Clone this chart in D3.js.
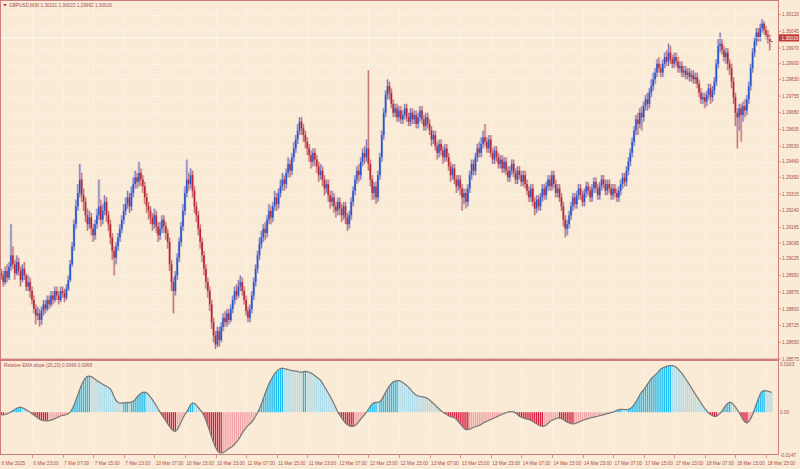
<!DOCTYPE html>
<html><head><meta charset="utf-8">
<script src="https://cdn.jsdelivr.net/npm/d3@7"></script>
<style>html,body{margin:0;padding:0;background:#FAEBD7;}svg{display:block}</style>
</head><body><svg id="c" width="800" height="469"></svg>
<script>
// prices stored in pips above BASE
const BASE = 1.28;
const closes = [
95,92,97,94,99,104,100,96,101,97,93,98,95,90,92,88,
84,80,77,78,75,79,82,
80,84,82,86,84,88,86,84,88,87,85,89,
93,100,108,118,126,132,138,131,
128,122,118,121,116,113,
118,122,126,120,124,128,122,118,
112,106,103,108,
112,116,120,124,
127,130,126,132,136,
139,137,141,138,135,
130,126,124,121,
118,122,117,113,116,120,117,114,110,
100,92,88,95,103,110,117,
124,132,138,136,140,133,
126,122,116,110,
104,98,92,88,
82,74,68,64,70,66,
72,76,74,78,75,
80,84,88,86,90,
92,88,84,79,76,80,
86,92,98,104,109,
112,116,114,120,124,121,126,130,127,132,135,
138,136,141,145,142,148,152,156,160,164,161,158,155,
152,149,146,150,147,144,140,142,
138,134,136,131,128,130,126,124,128,125,122,126,121,
118,122,
128,133,138,142,140,146,150,148,
152,145,138,132,135,130,140,148,
158,168,176,180,177,
172,168,170,166,169,165,167,170,166,164,168,165,167,163,166,169,165,162,166,163,160,
156,158,153,150,154,151,148,152,
148,144,140,143,138,135,138,134,130,132,128,
134,140,145,142,148,152,150,154,
157,155,152,156,150,147,151,148,145,147,
143,146,142,139,142,145,141,138,142,140,137,140,136,
133,130,134,128,125,129,126,130,134,131,135,
138,135,140,136,132,134,130,126,
120,116,118,122,126,
130,127,131,134,131,128,132,135,133,130,
134,137,134,131,135,138,136,133,136,134,131,134,132,130,133,
136,139,137,142,146,150,
155,160,165,163,168,
166,171,174,172,177,180,183,
186,190,188,186,190,193,191,195,
192,190,193,191,188,
189,186,187,185,186,184,185,183,184,181,
177,174,175,
173,176,179,175,178,
182,190,198,199,
196,193,195,190,188,
182,175,168,166,
170,167,171,169,174,
180,188,195,
200,204,202,206,208,205,203,201,
200.11,200.16];
const opens = [96,
95,92,97,94,99,104,100,96,101,97,93,98,95,90,92,88,
84,80,77,78,75,79,82,
80,84,82,86,84,88,86,84,88,87,85,89,
93,100,108,118,126,132,138,131,
128,122,118,121,116,113,
118,122,126,120,124,128,122,118,
112,106,103,108,
112,116,120,124,
127,130,126,132,136,
139,137,141,138,135,
130,126,124,121,
118,122,117,113,116,120,117,114,110,
100,92,88,95,103,110,117,
124,132,138,136,140,133,
126,122,116,110,
104,98,92,88,
82,74,68,64,70,66,
72,76,74,78,75,
80,84,88,86,90,
92,88,84,79,76,80,
86,92,98,104,109,
112,116,114,120,124,121,126,130,127,132,135,
138,136,141,145,142,148,152,156,160,164,161,158,155,
152,149,146,150,147,144,140,142,
138,134,136,131,128,130,126,124,128,125,122,126,121,
118,122,
128,133,138,142,140,146,150,148,
152,145,138,132,135,130,140,148,
158,168,176,180,177,
172,168,170,166,169,165,167,170,166,164,168,165,167,163,166,169,165,162,166,163,160,
156,158,153,150,154,151,148,152,
148,144,140,143,138,135,138,134,130,132,128,
134,140,145,142,148,152,150,154,
157,155,152,156,150,147,151,148,145,147,
143,146,142,139,142,145,141,138,142,140,137,140,136,
133,130,134,128,125,129,126,130,134,131,135,
138,135,140,136,132,134,130,126,
120,116,118,122,126,
130,127,131,134,131,128,132,135,133,130,
134,137,134,131,135,138,136,133,136,134,131,134,132,130,133,
136,139,137,142,146,150,
155,160,165,163,168,
166,171,174,172,177,180,183,
186,190,188,186,190,193,191,195,
192,190,193,191,188,
189,186,187,185,186,184,185,183,184,181,
177,174,175,
173,176,179,175,178,
182,190,198,199,
196,193,195,190,188,
182,175,168,166,
170,167,171,169,174,
180,188,195,
200,204,202,206,208,205,203,201,
200.11];
const highs = [
98,97,99,100,101,118,108,102,104,103,99,100,101,96,95,94,
90,86,82,81,80,81,84,
84,86,86,88,88,90,90,88,90,90,89,91,
95,102,110,120,129,136,145,141,
134,130,125,124,123,118,
120,125,138,129,127,131,130,124,
120,114,108,110,
114,118,122,127,
130,133,132,135,139,
142,141,146,143,140,
137,132,128,126,
123,125,124,119,119,122,122,119,116,
112,102,94,97,105,112,119,
127,135,147,141,143,142,
135,128,124,118,
112,106,100,94,
90,84,76,70,72,72,
74,78,79,80,80,
82,86,90,91,93,
95,94,90,86,81,82,
88,94,100,106,112,
115,118,119,122,127,126,128,133,132,134,138,
141,140,143,148,147,150,155,158,163,166,166,163,160,
157,154,151,152,152,149,146,145,
144,140,138,138,133,133,132,128,130,130,127,128,128,
123,124,
130,135,140,144,145,148,152,153,
156,187,147,140,137,137,142,150,
160,170,178,183,182,
179,174,172,172,171,171,169,172,172,168,170,170,169,169,168,171,171,167,168,168,165,
162,160,160,155,156,156,153,154,
154,150,146,145,145,140,140,140,136,134,134,
136,142,147,147,150,154,155,157,
160,163,157,158,158,152,153,153,150,149,
149,148,148,144,144,147,147,143,144,144,142,142,142,
138,135,136,136,130,131,131,132,136,136,137,
140,140,142,142,138,136,136,132,
128,122,120,124,128,
132,132,133,136,136,133,134,137,137,135,
136,139,139,136,137,140,140,138,138,138,136,136,136,134,135,
138,141,141,144,148,152,
157,162,167,168,170,
171,173,176,177,179,183,186,
188,192,193,190,192,195,196,199,
198,194,195,195,193,
191,191,189,189,188,188,187,187,186,186,
183,179,177,
177,178,181,181,180,
184,192,201,204,
201,198,197,197,192,
190,184,177,170,
172,172,173,174,176,
182,190,197,
202,206,206,208,210,209,207,205,
203,200.22];
const lows = [
93,90,91,92,93,97,98,93,95,95,90,92,93,88,88,85,
82,78,73,75,72,73,77,
78,79,80,81,82,83,84,82,83,85,83,84,
88,92,99,106,116,124,130,128,
124,119,115,116,113,110,
111,116,120,117,118,122,119,115,
109,102,95,100,
106,110,114,118,
122,125,123,124,130,
134,134,135,135,132,
127,123,120,118,
115,116,114,110,111,114,114,111,107,
97,88,78,86,93,101,108,
115,122,130,133,134,130,
123,119,113,107,
101,95,89,85,
79,71,65,62,63,63,
65,70,72,72,73,
74,78,82,84,85,
88,86,82,77,74,74,
78,84,90,96,102,
107,110,111,112,118,118,119,124,124,125,130,
133,133,134,139,139,140,146,150,154,158,158,155,152,
149,146,143,144,144,141,137,138,
135,131,132,128,125,126,123,121,122,122,119,120,118,
115,116,
120,126,131,136,137,138,144,145,
146,142,135,129,129,127,128,138,
146,156,166,174,174,
170,166,166,164,164,163,163,165,164,162,162,163,163,161,161,164,163,160,160,161,158,
153,154,151,147,148,149,145,146,
146,142,137,138,136,132,133,131,124,127,125,
126,132,138,140,140,146,148,148,
152,153,150,150,148,145,145,146,143,143,
141,141,140,137,137,140,139,136,136,138,135,135,134,
131,128,128,126,122,123,124,124,128,129,129,
133,133,133,134,130,130,128,124,
117,112,113,116,120,
124,125,125,129,129,126,126,130,131,128,
128,132,132,129,129,133,134,131,131,132,129,129,130,128,128,
131,134,135,135,140,144,
148,153,158,158,161,
160,164,169,169,170,175,178,
181,184,186,184,184,188,189,189,
190,188,188,189,186,
186,184,184,183,183,182,182,181,181,179,
175,172,172,
170,171,174,172,173,
176,180,188,195,
194,191,190,187,185,
179,172,162,152,
160,155,164,166,167,
172,178,186,
193,198,200,200,204,203,201,199,
196,199.92];
// Relative EMA slope, in units of 0.0001
const slope = [
-9,-9,-8,-6,
-3,1,5,9,13,16,17,
15,12,8,4,0,
-5,-10,-15,-20,-24,-27,-29,-30,-30,
-29,-27,-25,-22,-19,-16,-13,-11,
-10,-8,-5,0,
10,25,42,60,78,95,108,118,123,
124,122,118,113,108,104,100,
96,92,89,85,80,
68,52,40,33,
31,31,32,33,34,33,35,38,
44,52,59,65,68,69,
66,60,52,43,33,22,11,0,
-10,-20,-30,-40,-50,-58,-64,-66,
-60,-48,-34,-20,-8,2,
14,26,32,
30,24,16,8,0,
-12,-28,-46,-66,-86,-104,-120,-132,-139,
-140,-139,-135,-130,-125,-121,-117,
-110,-102,-94,-84,-72,
-62,-54,-46,-40,-34,-25,-14,-2,
12,28,46,64,82,98,110,
122,132,140,146,150,151,
150,148,146,144,143,142,141,140,
138,137,139,140,
139,137,134,130,125,120,115,110,
99,88,77,66,54,42,28,14,0,
-10,-20,-29,-37,-43,-47,-49,-49,
-46,-40,-32,-24,-16,-8,0,
10,20,28,33,34,34,36,
44,56,68,80,90,98,104,107,108,
108,106,102,97,92,86,
78,70,64,59,56,54,
53,52,50,47,42,
36,30,24,17,11,5,0,
-4,-8,-12,-15,-17,-19,
-24,-32,-40,-48,-55,-60,
-60,-58,-55,-52,-50,-48,-45,-42,-37,
-34,-31,-28,-25,-22,-19,-16,-13,-10,-7,-5,-2,0,
2,2,1,-3,-8,
-14,-17,-20,-22,-24,-25,
-28,-32,-36,-40,-44,-47,-49,
-48,-44,-38,-32,-28,-25,-22,-20,-20,
-22,-26,-30,-34,-37,-39,-40,
-39,-37,-34,-31,-28,-26,-24,-22,-20,
-18,-17,-15,-14,-12,-10,-9,-7,-5,-3,-1,0,
3,6,9,10,10,9,9,10,12,
18,26,36,48,60,70,77,
86,96,106,115,122,128,134,
142,148,152,155,157,159,160,160,
158,154,148,141,133,124,114,104,94,84,72,62,52,42,32,22,12,4,-3,
-8,-12,-14,-14,
-10,-4,4,14,24,31,34,
32,26,18,8,-2,-14,-26,-34,-37,
-32,-22,-8,10,28,46,62,72,
74,73,72,70,69];
const timeLabels = ["6 Mar 2025","6 Mar 23:00","7 Mar 07:00","7 Mar 15:00","7 Mar 23:00","10 Mar 07:00","10 Mar 15:00","10 Mar 23:00","11 Mar 07:00","11 Mar 15:00","11 Mar 23:00","12 Mar 07:00","12 Mar 15:00","12 Mar 23:00","13 Mar 07:00","13 Mar 15:00","13 Mar 23:00","14 Mar 07:00","14 Mar 15:00","14 Mar 23:00","17 Mar 07:00","17 Mar 15:00","17 Mar 23:00","18 Mar 07:00","18 Mar 15:00","18 Mar 23:00"];
const labelEvery = 16;
const priceTicks = [1.30120,1.30045,1.29970,1.29900,1.29830,1.29755,1.29680,1.29605,1.29530,1.29460,1.29390,1.29315,1.29240,1.29165,1.29095,1.29025,1.28950,1.28875,1.28800,1.28725,1.28650,1.28575];
const slopeTicks = [0.0163, 0.00, -0.0147];
const slopeTickText = ["0.0163","0.00","-0.0147"];
const lastPrice = 1.30016;
const title = "GBPUSD,M30  1.30011 1.30022 1.29992 1.30016";
const indTitle = "Relative EMA slope (20,20) 0.0069 0.0069";

const BG="#FAEBD7", AX="#CD807B", TX="#A9504C", FONT="'Liberation Sans', Arial, sans-serif", FS=4.7;
const svg = d3.select("#c");
const N = Math.min(closes.length, opens.length, highs.length, lows.length);
const x = d3.scaleLinear().domain([16, 400]).range([32, 766]);
const yP = d3.scaleLinear().domain([1.28575, 1.30120]).range([359, 14.7]);
const yS = d3.scaleLinear().domain([-0.0147, 0.0163]).range([455, 364.7]);
const P = v => BASE + v/10000;

svg.append("rect").attr("width",800).attr("height",469).attr("fill",BG);
const defs = svg.append("defs");
defs.append("clipPath").attr("id","cm").append("rect").attr("x",1).attr("y",1).attr("width",777).attr("height",357.5);
defs.append("clipPath").attr("id","ci").append("rect").attr("x",1).attr("y",361).attr("width",777).attr("height",93.5);

// grid
const grid = svg.append("g").attr("stroke","#FFFFFF").attr("stroke-width",0.7).attr("stroke-dasharray","1.5,2").attr("opacity",0.9);
for (let k=1;k<timeLabels.length;k++){
  const gx = Math.round(x(k*labelEvery))+0.5;
  grid.append("line").attr("x1",gx).attr("x2",gx).attr("y1",1).attr("y2",358);
  grid.append("line").attr("x1",gx).attr("x2",gx).attr("y1",361).attr("y2",454);
}
priceTicks.forEach(t=>{
  const gy = Math.round(yP(t))+0.5;
  if (gy<357) grid.append("line").attr("x1",1).attr("x2",778).attr("y1",gy).attr("y2",gy);
});

// candles
const gm = svg.append("g").attr("clip-path","url(#cm)");
for (let i=0;i<N;i++){
  const o=P(opens[i]), c=P(closes[i]), h=P(highs[i]), l=P(lows[i]);
  const bull = c>=o;
  const cx = x(i);
  gm.append("rect").attr("x",cx-1.4).attr("width",2.8).attr("y",yP(h)).attr("height",Math.max(0.8,yP(l)-yP(h)))
    .attr("fill",bull?"#9A9AD8":"#D89A9A").attr("opacity",0.45);
  gm.append("line").attr("x1",cx).attr("x2",cx).attr("y1",yP(h)).attr("y2",yP(l))
    .attr("stroke",bull?"#6E64B4":"#B25A5A").attr("stroke-width",0.8);
  const top = yP(Math.max(o,c)), bot = yP(Math.min(o,c));
  gm.append("rect").attr("x",cx-0.8).attr("width",1.6).attr("y",top).attr("height",Math.max(0.8,bot-top))
    .attr("fill",bull?"#2158D0":"#BC2330");
}
// bid line
gm.append("line").attr("x1",1).attr("x2",778).attr("y1",yP(lastPrice)).attr("y2",yP(lastPrice))
  .attr("stroke","#FFFFFF").attr("stroke-width",0.8).attr("opacity",0.9);

// indicator histogram
const gi = svg.append("g").attr("clip-path","url(#ci)");
for (let i=0;i<slope.length;i++){
  const v = slope[i]/1e4, pv = i>0 ? slope[i-1]/1e4 : v;
  if (v===0) continue;
  let col;
  if (v>0) col = v>pv ? "#1FBDF3" : "#AEDCEA";
  else col = v<=pv ? "#D81E3E" : "#F2A2A6";
  const y0=yS(0), y1=yS(v);
  gi.append("rect").attr("x",x(i)-0.65).attr("width",1.3).attr("y",Math.min(y0,y1)).attr("height",Math.abs(y1-y0)).attr("fill",col);
}
gi.append("path").datum(slope).attr("fill","none").attr("stroke","#7A7A7A").attr("stroke-width",1.25)
  .attr("d", d3.line().x((d,i)=>x(i)).y(d=>yS(d/1e4)));

// frame
svg.append("line").attr("x1",0.5).attr("x2",0.5).attr("y1",0).attr("y2",455).attr("stroke",AX).attr("stroke-width",1);
svg.append("line").attr("x1",0).attr("x2",778).attr("y1",0.5).attr("y2",0.5).attr("stroke",AX).attr("stroke-width",1);
svg.append("line").attr("x1",778.5).attr("x2",778.5).attr("y1",0).attr("y2",455).attr("stroke",AX).attr("stroke-width",1);
svg.append("rect").attr("x",0).attr("y",358.6).attr("width",779).attr("height",2.4).attr("fill",AX);
svg.append("line").attr("x1",0).attr("x2",779).attr("y1",454.5).attr("y2",454.5).attr("stroke",AX).attr("stroke-width",1);

// right axis labels
const ga = svg.append("g").attr("font-family",FONT).attr("font-size",FS).attr("fill",TX);
priceTicks.forEach(t=>{
  const ty = yP(t);
  svg.append("line").attr("x1",778).attr("x2",781).attr("y1",ty).attr("y2",ty).attr("stroke",AX).attr("stroke-width",0.8);
  ga.append("text").attr("x",782).attr("y",ty).attr("dy","0.35em").text(t.toFixed(5));
});
slopeTicks.forEach((t,k)=>{
  const ty = yS(t);
  ga.append("text").attr("x",780).attr("y",ty).attr("dy","0.35em").text(slopeTickText[k]);
});
// last price box
const lpY = yP(lastPrice);
svg.append("rect").attr("x",779).attr("y",lpY-3.6).attr("width",20).attr("height",7.2).attr("fill","#C23A36");
svg.append("text").attr("x",781.5).attr("y",lpY).attr("dy","0.35em").attr("font-family",FONT).attr("font-size",FS).attr("fill","#FFFFFF").text(lastPrice.toFixed(5));

// time axis
timeLabels.forEach((t,k)=>{
  const tx = x(k*labelEvery);
  if (k>0) svg.append("line").attr("x1",Math.round(tx)+0.5).attr("x2",Math.round(tx)+0.5).attr("y1",454.5).attr("y2",458).attr("stroke",AX).attr("stroke-width",0.8);
  ga.append("text").attr("x",k===0?1.5:tx+1.5).attr("y",463).attr("dy","0.35em").text(t);
});

// titles
svg.append("path").attr("d","M3,4 L7,4 L5,6.5 Z").attr("fill","#B5453F");
ga.append("text").attr("x",9).attr("y",5.2).attr("dy","0.35em").text(title);
ga.append("text").attr("x",4).attr("y",365.5).attr("dy","0.35em").text(indTitle);
</script>
</body></html>
